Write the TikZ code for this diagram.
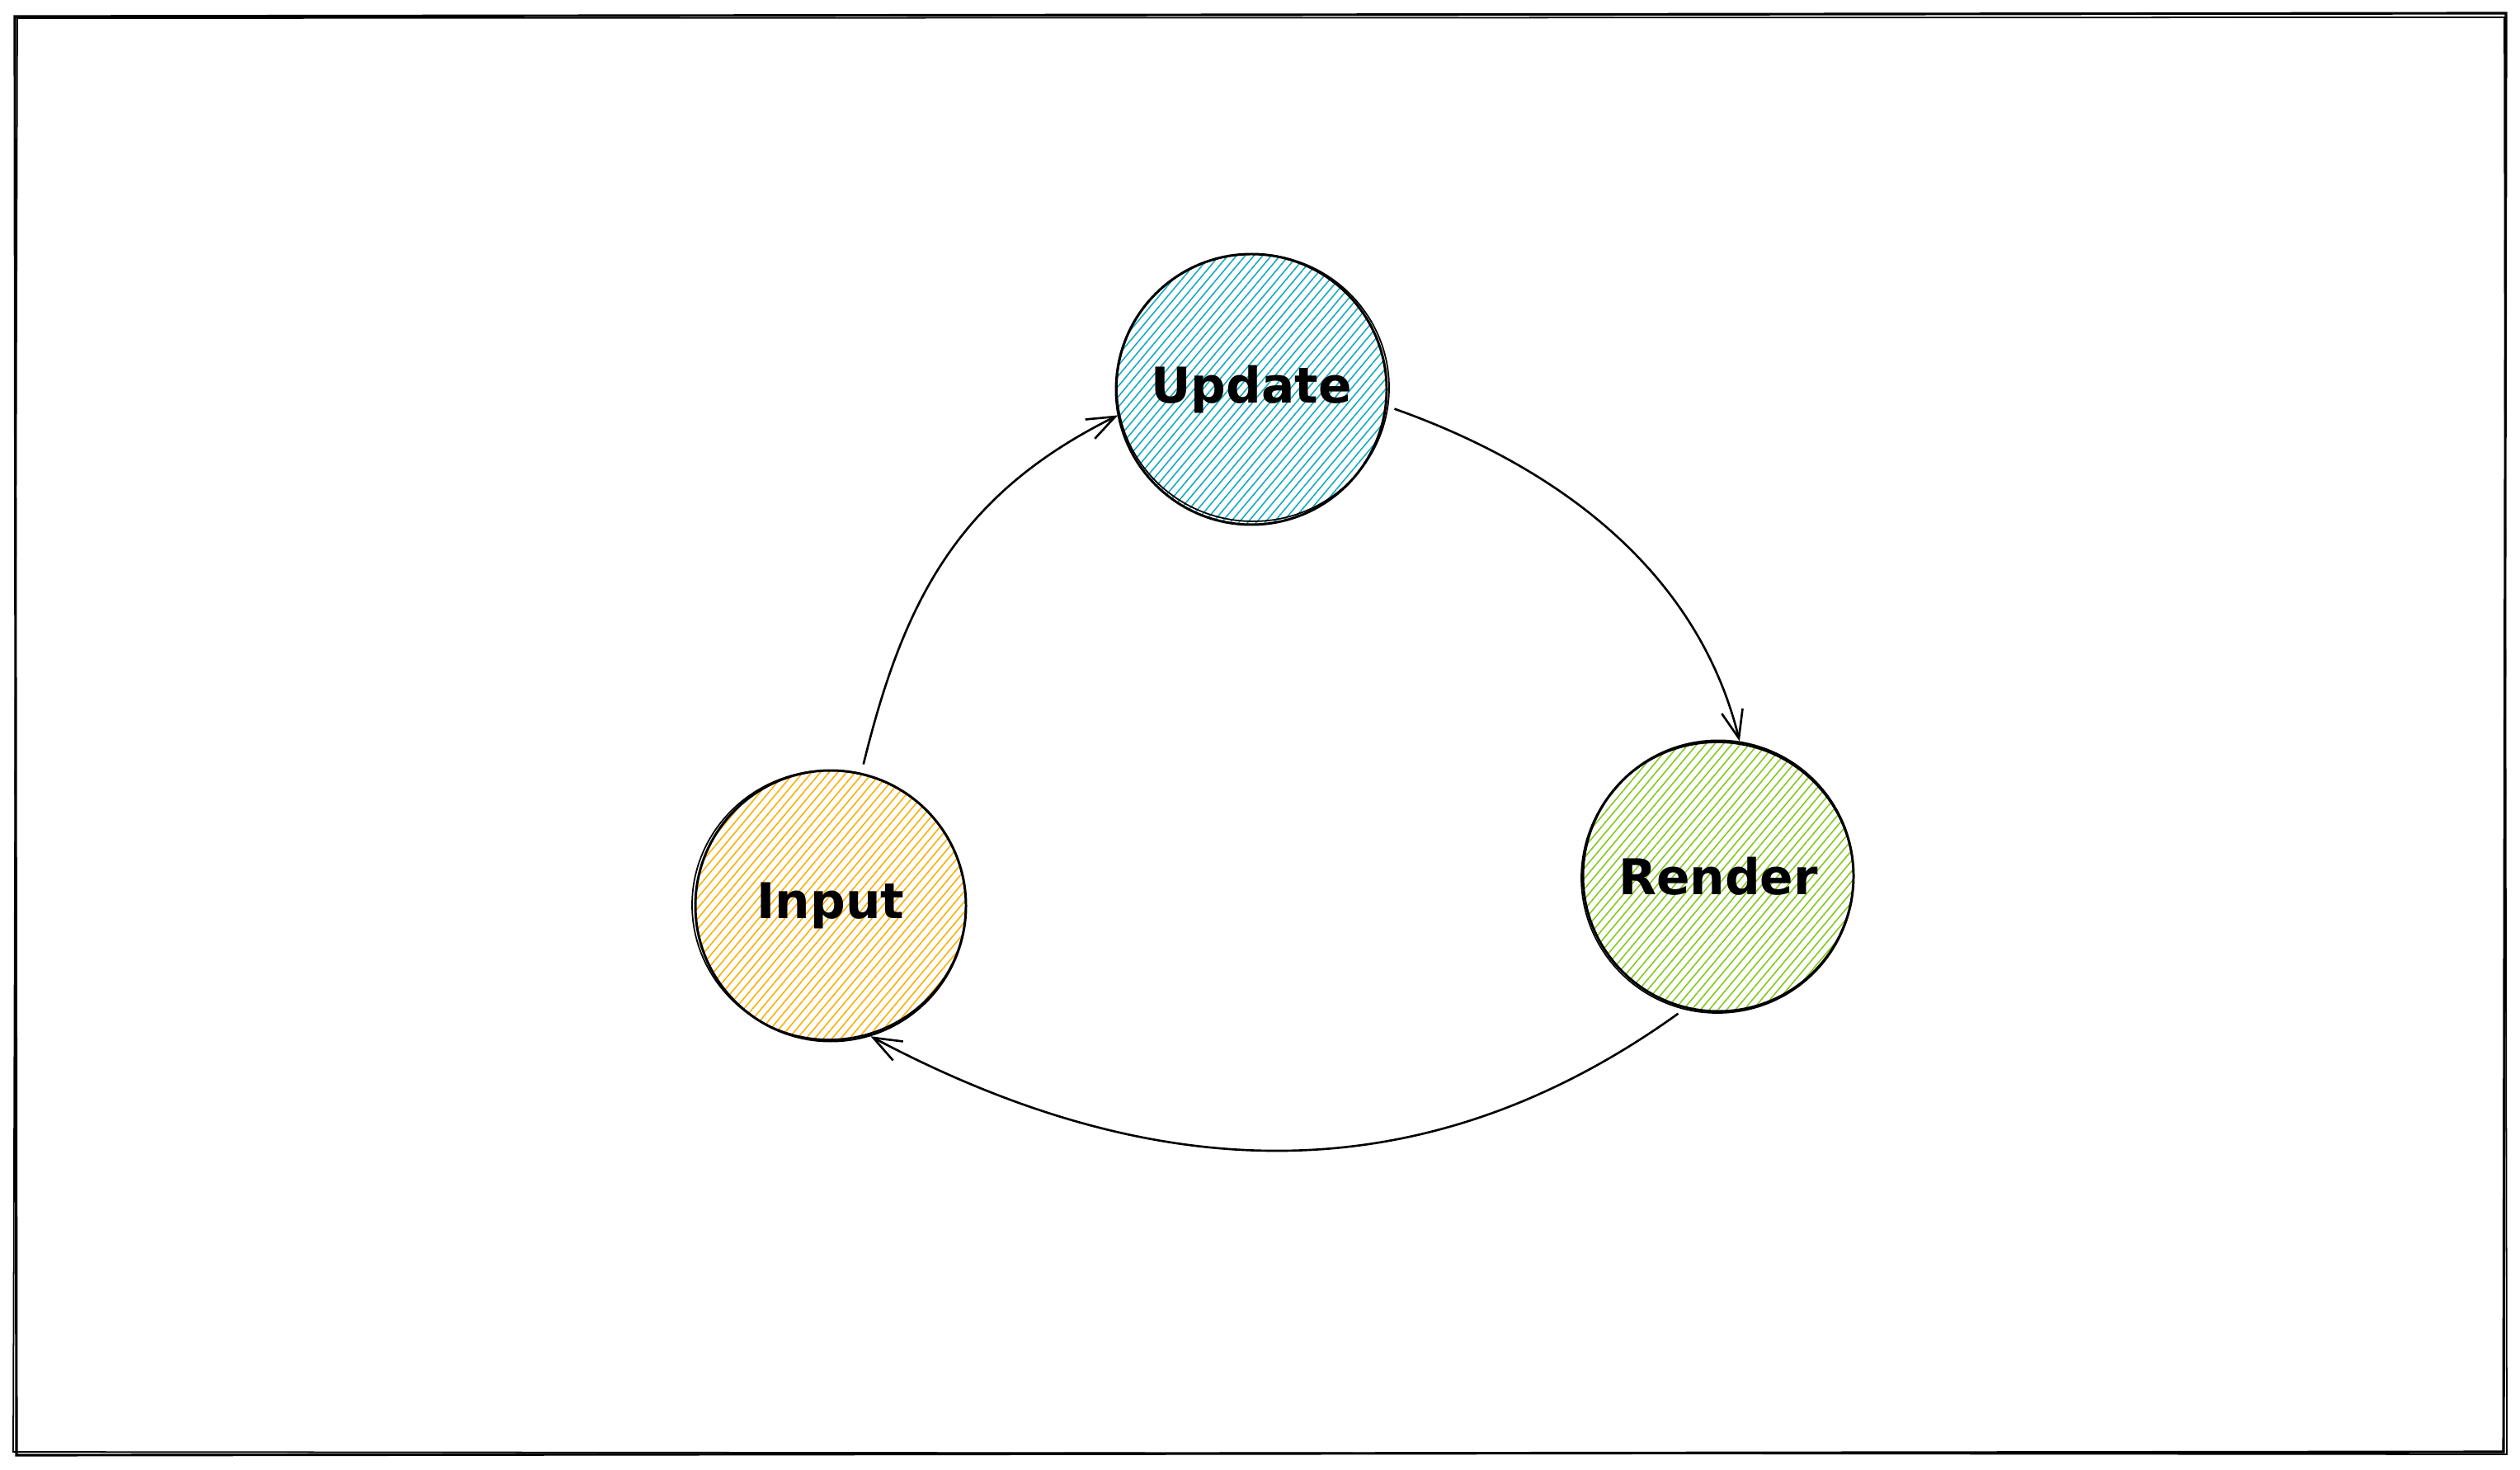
\documentclass[tikz,border=0pt]{standalone}
\usepackage{fontspec}
\setmainfont{DejaVu Sans}
\usepackage{tikz}
\usetikzlibrary{arrows.meta}
\usetikzlibrary{patterns.meta}
\definecolor{updatecol}{HTML}{15AABF}
\definecolor{inputcol}{HTML}{FAB005}
\definecolor{rendercol}{HTML}{82C91E}
\tikzset{
  stage/.style={circle, draw, line width=0.85pt, minimum size=3.28cm, inner sep=0pt,
    font=\fontsize{17}{20}\selectfont\bfseries},
  hatch/.style={pattern={Lines[angle=50,distance=2.3pt,line width=0.45pt]}, pattern color=#1},
  loop/.style={line width=0.75pt, -{Straight Barb[length=3.4mm,width=2.6mm]}, shorten <=3pt},
  sketch/.style={line width=0.5pt}
}

\begin{document}
\begin{tikzpicture}
\useasboundingbox (0,0) rectangle (30.55,-17.82);
% frame, drawn twice for the sketchy look
\draw[line width=0.9pt] (0.18,-0.20) -- (30.38,-0.16) -- (30.35,-17.60) -- (0.20,-17.64) -- cycle;
\draw[sketch] (0.21,-0.22) -- (30.36,-0.21) -- (30.39,-17.63) -- (0.16,-17.60) -- cycle;
% stages
\node[stage, hatch=updatecol] (update) at (15.17,-4.72) {Update};
\node[stage, hatch=inputcol] (input) at (10.07,-10.98) {Input};
\node[stage, hatch=rendercol] (render) at (20.83,-10.62) {Render};
\draw[sketch] ([shift={(0.02,0.02)}]update.center) ellipse (1.65 and 1.62);
\draw[sketch] ([shift={(-0.02,0.01)}]input.center) ellipse (1.66 and 1.63);
\draw[sketch] ([shift={(-0.01,-0.02)}]render.center) ellipse (1.65 and 1.64);
% loop
\draw[loop] (input.77) .. controls (10.95,-7.30) and (11.60,-6.00) .. (update.191);
\draw[loop] (update.-7) .. controls (19.00,-5.70) and (20.60,-7.00) .. (render.81);
\draw[loop] (render.256) .. controls (17.40,-14.40) and (14.20,-14.50) .. (input.287);
\end{tikzpicture}
\end{document}
